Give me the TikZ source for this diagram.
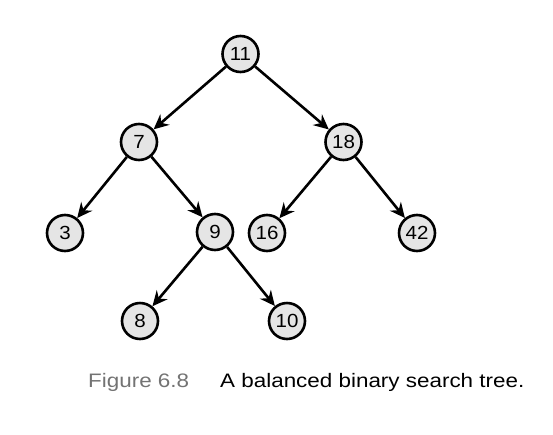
\documentclass[tikz,border=0pt]{standalone}
\usepackage{fontspec}
\setmainfont{Liberation Sans}
\newfontfamily\widefont[FakeStretch=1.15]{Liberation Sans}
\newfontfamily\nodefont[FakeStretch=1.08]{Liberation Sans}
\usetikzlibrary{arrows.meta}
\begin{document}
\begin{tikzpicture}[x=1pt,y=-1pt,
  tn/.style={circle,draw=black,line width=2.6pt,fill=black!10,minimum size=36pt,inner sep=0pt,font=\nodefont\fontsize{19}{21}\selectfont},
  edge/.style={line width=2.6pt,-{Stealth[length=15pt,width=14pt,inset=5pt]}},
  captext/.style={anchor=base west,inner sep=0pt,font=\widefont\fontsize{19.5}{22}\selectfont}]
\useasboundingbox (0,0) rectangle (553,434);
\node[tn] (n11) at (240.5,54) {11};
\node[tn] (n7) at (139,142) {7};
\node[tn] (n18) at (343.5,142) {18};
\node[tn] (n3) at (65,233) {3};
\node[tn] (n9) at (215,232) {9};
\node[tn] (n16) at (267,233) {16};
\node[tn] (n42) at (417,233) {42};
\node[tn] (n8) at (140,321) {8};
\node[tn] (n10) at (287,321) {10};
\draw[edge] (n11) -- (n7);
\draw[edge] (n11) -- (n18);
\draw[edge] (n7) -- (n3);
\draw[edge] (n7) -- (n9);
\draw[edge] (n18) -- (n16);
\draw[edge] (n18) -- (n42);
\draw[edge] (n9) -- (n8);
\draw[edge] (n9) -- (n10);
\node[captext,text=black!55] (fig) at (88,387) {Figure 6.8};
\node[captext] (txt) at (220,387) {A balanced binary search tree.};
\end{tikzpicture}
\end{document}
